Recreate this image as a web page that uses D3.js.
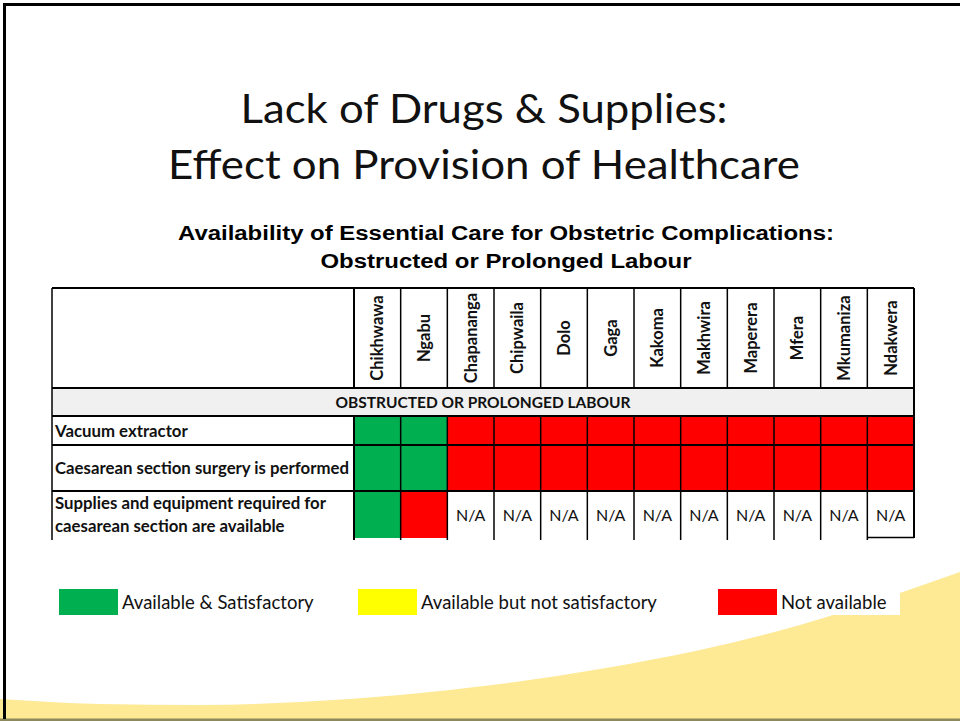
<!DOCTYPE html>
<html><head><meta charset="utf-8">
<script src="https://cdn.jsdelivr.net/npm/d3@7"></script>
<style>body{margin:0;background:#fff;overflow:hidden} svg{display:block}</style>
</head><body>
<svg id="c" width="960" height="721"></svg>
<script>
// ---------- data ----------
const titleLines = ["Lack of Drugs & Supplies:", "Effect on Provision of Healthcare"];
const subtitleLines = ["Availability of Essential Care for Obstetric Complications:", "Obstructed or Prolonged Labour"];
const sectionLabel = "OBSTRUCTED OR PROLONGED LABOUR";
const districts = ["Chikhwawa","Ngabu","Chapananga","Chipwaila","Dolo","Gaga","Kakoma","Makhwira","Maperera","Mfera","Mkumaniza","Ndakwera"];
const indicatorLabels = [
  ["Vacuum extractor"],
  ["Caesarean section surgery is performed"],
  ["Supplies and equipment required for", "caesarean section are available"]
];
// A = Available & Satisfactory, Y = Available but not satisfactory, N = Not available, NA = N/A
const vacuumExtractor    = ["A","A","N","N","N","N","N","N","N","N","N","N"];
const caesareanPerformed = ["A","A","N","N","N","N","N","N","N","N","N","N"];
const caesareanSupplies  = ["A","N","NA","NA","NA","NA","NA","NA","NA","NA","NA","NA"];
const statusKeys   = ["A","Y","N"];
const statusLabels = ["Available & Satisfactory","Available but not satisfactory","Not available"];
const naText = "N/A";

// ---------- layout ----------
const svg = d3.select("#c");
const W = 960, H = 721;
const FONT = "Lato, 'Open Sans', sans-serif";
const tableLeft = 52, labelRight = 354, tableRight = 914;
const headerTop = 288, headerBottom = 388, sectionBottom = 416;
const rowHeights = [29, 46, 47];
const rows = [vacuumExtractor, caesareanPerformed, caesareanSupplies];

const color = d3.scaleOrdinal().domain(statusKeys).range(["#00B050","#FFFF00","#FF0000"]);
const x = d3.scaleBand().domain(districts).range([labelRight, tableRight]).padding(0);
const rowTops = d3.cumsum([0, ...rowHeights]).map(v => v + sectionBottom);
const y = d3.scaleOrdinal().domain(d3.range(rows.length)).range(rowTops.slice(0, rows.length));
const rh = d3.scaleOrdinal().domain(d3.range(rows.length)).range(rowHeights);
const tableBottom = rowTops[rows.length];

// background decoration: yellow swoosh
const swoosh = [[0,699],[100,704],[200,705],[300,702],[400,695],[500,684],[600,669],[700,650],[800,625],[900,593],[960,572]];
const area = d3.area().x(d=>d[0]).y0(H).y1(d=>d[1]).curve(d3.curveMonotoneX);
svg.append("path").attr("d", area(swoosh)).attr("fill", "#FEE995");
svg.append("rect").attr("x",0).attr("y",718.5).attr("width",W).attr("height",3).attr("fill","#8C8A5C");
// slide frame
svg.append("line").attr("x1",3).attr("x2",W).attr("y1",4.5).attr("y2",4.5).attr("stroke","#000").attr("stroke-width",3);
svg.append("line").attr("x1",4.5).attr("x2",4.5).attr("y1",3).attr("y2",719).attr("stroke","#000").attr("stroke-width",3);

// titles
svg.selectAll("text.title").data(titleLines).join("text")
  .attr("class","title").attr("x",484).attr("y",(d,i)=>123+i*56)
  .attr("text-anchor","middle").attr("font-family",FONT).attr("font-weight",400)
  .attr("font-size",41).attr("fill","#111")
  .attr("textLength",(d,i)=>[487,632][i]).attr("lengthAdjust","spacingAndGlyphs")
  .text(d=>d);

svg.selectAll("text.sub").data(subtitleLines).join("text")
  .attr("class","sub").attr("x",506).attr("y",(d,i)=>240+i*28)
  .attr("text-anchor","middle").attr("font-family","'Liberation Sans', Arial, sans-serif").attr("font-weight","bold")
  .attr("font-size",19.5).attr("fill","#000")
  .attr("textLength",(d,i)=>[656,371][i]).attr("lengthAdjust","spacingAndGlyphs")
  .text(d=>d);

// ---------- table ----------
const g = svg.append("g");
// section band
g.append("rect").attr("x",tableLeft).attr("y",headerBottom).attr("width",tableRight-tableLeft).attr("height",sectionBottom-headerBottom).attr("fill","#F0F0F0");

// column headers
g.selectAll("text.col").data(districts).join("text")
  .attr("class","col")
  .attr("transform", d => `translate(${x(d)+x.bandwidth()/2+6},338) rotate(-90)`)
  .attr("text-anchor","middle").attr("font-family",FONT).attr("font-weight","bold")
  .attr("font-size",16.5).attr("fill","#111").text(d=>d);

// cells
rows.forEach((vals, ri) => {
  const rg = g.append("g");
  const cells = vals.map((v,i)=>({v, d:districts[i]}));
  rg.selectAll("rect").data(cells.filter(c=>c.v!=="NA")).join("rect")
    .attr("x", c=>x(c.d)).attr("y", y(ri)).attr("width", x.bandwidth()).attr("height", rh(ri))
    .attr("fill", c=>color(c.v));
  rg.selectAll("text.na").data(cells.filter(c=>c.v==="NA")).join("text")
    .attr("class","na").attr("x", c=>x(c.d)+x.bandwidth()/2).attr("y", y(ri)+rh(ri)/2+6)
    .attr("text-anchor","middle").attr("font-family",FONT).attr("font-size",16)
    .attr("fill","#111").text(naText);
  const lines = indicatorLabels[ri];
  rg.selectAll("text.lab").data(lines).join("text")
    .attr("class","lab").attr("x",55)
    .attr("y",(d,i)=> lines.length===1 ? y(ri)+rh(ri)/2+6 : y(ri)+18+i*23)
    .attr("font-family",FONT).attr("font-weight","bold").attr("font-size",16.8).attr("fill","#111")
    .text(d=>d);
});

// grid lines
const hLines = [headerTop, headerBottom, sectionBottom, ...rowTops.slice(1, rows.length)];
g.selectAll("line.h").data(hLines).join("line").attr("class","h")
  .attr("x1",tableLeft).attr("x2",tableRight).attr("y1",d=>d).attr("y2",d=>d)
  .attr("stroke","#000").attr("stroke-width",2);
const colEdges = districts.map(d=>x(d)).concat([tableRight]);
g.selectAll("line.v").data(colEdges).join("line").attr("class","v")
  .attr("x1",d=>d).attr("x2",d=>d).attr("y1",headerTop).attr("y2",d=> d===tableRight ? tableBottom : tableBottom+2)
  .attr("stroke","#000").attr("stroke-width",(d,i)=> (i===0||d===tableRight)?2:1.5);
g.append("line").attr("x1",tableLeft).attr("x2",tableLeft).attr("y1",headerTop).attr("y2",tableBottom+2).attr("stroke","#000").attr("stroke-width",1.5);
// section row spans all columns: cover separators
g.append("rect").attr("x",tableLeft+1).attr("y",headerBottom+1).attr("width",tableRight-tableLeft-2).attr("height",sectionBottom-headerBottom-2).attr("fill","#F0F0F0");
g.append("text").attr("x",483).attr("y",408).attr("text-anchor","middle")
  .attr("font-family",FONT).attr("font-weight","bold").attr("font-size",15.5).attr("fill","#111")
  .text(sectionLabel);
g.append("line").attr("x1",x(districts[districts.length-1])).attr("x2",tableRight).attr("y1",tableBottom-0.5).attr("y2",tableBottom-0.5).attr("stroke","#000").attr("stroke-width",1.5);

// ---------- legend ----------
const legX = [59, 358, 718];
const leg = svg.append("g");
leg.append("rect").attr("x",778).attr("y",589).attr("width",122).attr("height",26).attr("fill","#fff");
statusKeys.forEach((k,i)=>{
  leg.append("rect").attr("x",legX[i]).attr("y",589).attr("width",59).attr("height",26).attr("fill",color(k));
  leg.append("text").attr("x",legX[i]+63).attr("y",609).attr("font-family",FONT)
    .attr("font-size",18.5).attr("fill","#111").text(statusLabels[i]);
});
</script>
</body></html>
